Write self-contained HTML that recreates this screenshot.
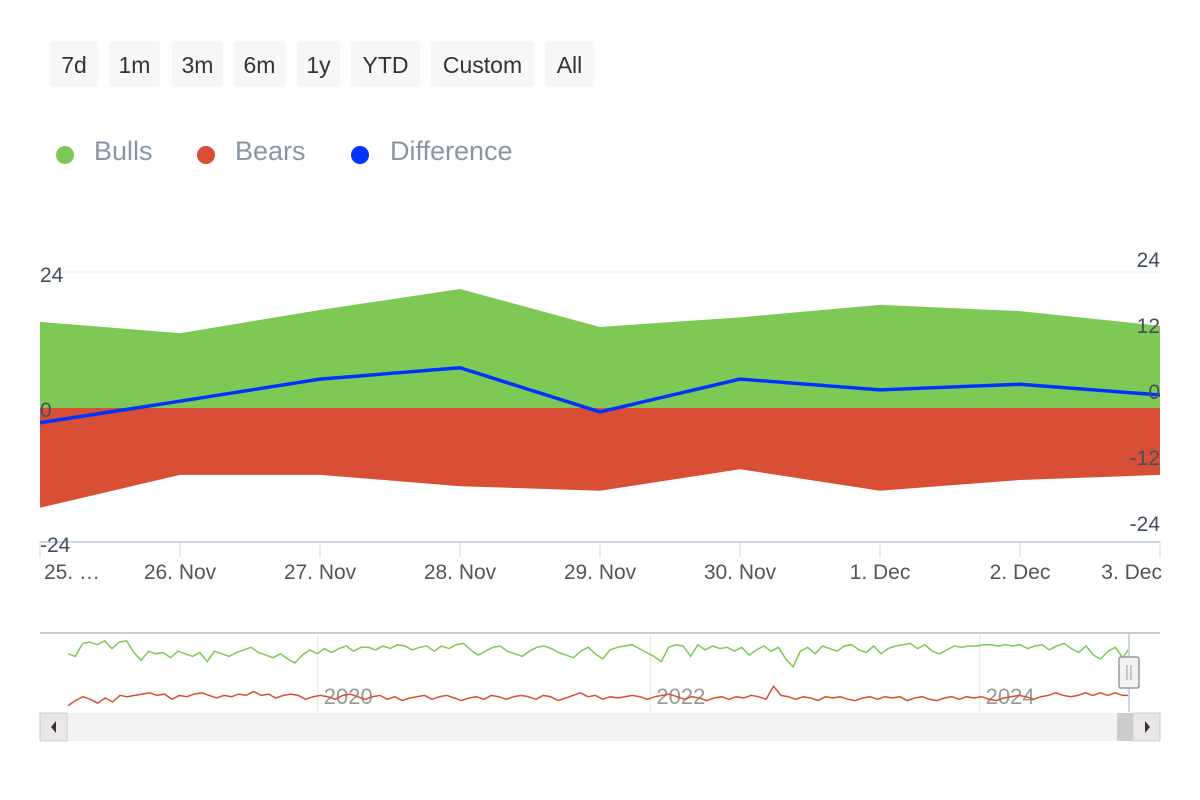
<!DOCTYPE html>
<html><head><meta charset="utf-8"><style>
body{margin:0;background:#fff;width:1200px;height:800px;overflow:hidden;font-family:"Liberation Sans","DejaVu Sans",sans-serif}
.btn{position:absolute;top:41px;height:46px;background:#f7f7f7;border-radius:3px;font-size:23px;color:#333;line-height:48px;text-align:center}
.leg{position:absolute;top:133px;font-size:27px;color:#8995a3;line-height:36px}
.dot{position:absolute;top:146px;width:18px;height:18px;border-radius:50%}
</style></head><body>
<div class="btn" style="left:50px;width:48px">7d</div>
<div class="btn" style="left:109px;width:51px">1m</div>
<div class="btn" style="left:172px;width:51px">3m</div>
<div class="btn" style="left:234px;width:51px">6m</div>
<div class="btn" style="left:297px;width:43px">1y</div>
<div class="btn" style="left:351px;width:69px">YTD</div>
<div class="btn" style="left:431px;width:103px">Custom</div>
<div class="btn" style="left:545px;width:49px">All</div>
<div class="dot" style="left:56px;background:#7ec855"></div>
<div class="leg" style="left:94px">Bulls</div>
<div class="dot" style="left:197px;background:#d94f35"></div>
<div class="leg" style="left:235px">Bears</div>
<div class="dot" style="left:351px;background:#0033ff"></div>
<div class="leg" style="left:390px">Difference</div>
<svg id="c" width="1200" height="800" style="position:absolute;left:0;top:0"></svg>
<script>
const categories=["25. …","26. Nov","27. Nov","28. Nov","29. Nov","30. Nov","1. Dec","2. Dec","3. Dec"];
const bulls=[15.2,13.2,17.3,21,14.3,16,18.2,17.1,14.5];
const bears=[-17.6,-11.8,-11.8,-13.8,-14.6,-10.8,-14.6,-12.7,-11.8];
const diff=[-2.6,1.2,5.1,7.1,-0.7,5.1,3.2,4.2,2.3];
const leftTicks=[24,0,-24];
const rightTicks=["24","12","0","-12","-24"];
const navBulls=[14,12,22,23,21,24,18,23,24,15,9,16,14,15,11,16,14,12,15,8,16,14,12,15,17,19,15,13,11,14,10,7,13,17,14,18,15,18,20,16,19,19,17,20,18,21,20,17,19,20,16,20,18,21,22,17,13,16,19,20,16,14,12,16,19,20,18,15,13,11,16,19,14,10,17,19,20,21,18,15,12,8,19,21,20,12,21,17,20,18,19,16,19,13,17,20,16,19,10,4,16,19,14,20,18,16,20,21,17,15,20,14,18,20,21,22,18,21,16,14,17,20,19,20,20,21,21,20,21,20,21,18,20,21,17,20,22,18,15,20,13,10,16,19,11,19];
const navBears=[-26,-22,-19,-21,-24,-20,-23,-18,-19,-18,-17,-16,-18,-17,-21,-18,-19,-17,-16,-18,-20,-18,-19,-17,-18,-15,-18,-17,-20,-18,-17,-18,-21,-19,-18,-19,-21,-18,-17,-19,-21,-19,-18,-21,-19,-22,-20,-19,-18,-21,-19,-18,-20,-22,-20,-19,-21,-18,-19,-21,-19,-18,-19,-21,-18,-19,-22,-20,-18,-16,-19,-18,-21,-19,-20,-19,-18,-19,-21,-19,-18,-17,-19,-21,-19,-20,-22,-20,-19,-21,-19,-20,-18,-19,-21,-11,-18,-19,-21,-19,-20,-22,-19,-20,-19,-21,-22,-20,-19,-21,-19,-20,-19,-22,-20,-19,-21,-22,-20,-19,-21,-19,-20,-19,-21,-22,-20,-19,-18,-19,-21,-19,-18,-16,-18,-19,-18,-16,-18,-16,-18,-16,-18,-18];
const navYears=["2020","2022","2024"];
const navYearPos=[0.248,0.545,0.839];

const NS="http://www.w3.org/2000/svg",svg=document.getElementById('c');
function el(t,a,p){const e=document.createElementNS(NS,t);for(const k in a)e.setAttribute(k,a[k]);(p||svg).appendChild(e);return e;}
const X=i=>40+i*(1120/(categories.length-1));
const Y=v=>408-v*(136/24);
let g=el('line',{x1:40,x2:1160,y1:Y(24),y2:Y(24),stroke:'#eeeeee','stroke-width':1});

let g2=el('line',{x1:40,x2:1160,y1:458,y2:458,stroke:'#eeeeee','stroke-width':1});

function area(vals,color,name){let d='M'+X(0)+','+Y(0);vals.forEach((v,i)=>d+=' L'+X(i)+','+Y(v));d+=' L'+X(vals.length-1)+','+Y(0)+' Z';
 const p=el('path',{d:d,fill:color});}
area(bulls,'#7ec855','bulls-area');
area(bears,'#d94f35','bears-area');
let dl=el('path',{d:diff.map((v,i)=>(i?'L':'M')+X(i)+','+Y(v)).join(' '),fill:'none',stroke:'#0033ff','stroke-width':3.5,'stroke-linejoin':'round'});

let ax=el('line',{x1:40,x2:1160,y1:542,y2:542,stroke:'#ccd6eb','stroke-width':2});

categories.forEach((c,i)=>{
 const t=el('line',{x1:X(i),x2:X(i),y1:542,y2:557,stroke:'#ccd6eb','stroke-width':1});
 
 const anchor=i==0?'start':(i==categories.length-1?'end':'middle');
 const tx=el('text',{x:i==0?44:(i==categories.length-1?1162:X(i)),y:579,'font-size':21,fill:'#555','text-anchor':anchor});tx.textContent=c;
 
});
leftTicks.forEach(v=>{const t=el('text',{x:40,y:Y(v)+(v==24?10:(v==0?9:8)),'font-size':21,fill:'#444e5e'});t.textContent=String(v);
 });
rightTicks.forEach((v,i)=>{const t=el('text',{x:1160,y:267+i*66,'font-size':21,fill:'#444e5e','text-anchor':'end'});t.textContent=v;
 });
let nt=el('line',{x1:40,x2:1160,y1:633,y2:633,stroke:'#cccccc','stroke-width':2});

navYears.forEach((y,i)=>{const x=40+navYearPos[i]*1120;
 const l=el('line',{x1:x,x2:x,y1:633,y2:712,stroke:'#e6e6e6'});
 const t=el('text',{x:x+6,y:704,'font-size':22,fill:'#999'});t.textContent=y;});
const NX=(i,n)=>68+i*(1062/(n-1));const NY=v=>672-v*1.3;
function navLine(vals,color,name){const p=el('path',{d:vals.map((v,i)=>(i?'L':'M')+NX(i,vals.length).toFixed(1)+','+NY(v).toFixed(1)).join(' '),fill:'none',stroke:color,'stroke-width':1.5});
 }
navLine(navBulls,'#7ec855','navigator-bulls-line');
navLine(navBears,'#d94f35','navigator-bears-line');
let hl=el('line',{x1:1129,x2:1129,y1:633,y2:712,stroke:'#ccd6eb','stroke-width':2});
let hd=el('rect',{x:1119,y:657,width:20,height:31,rx:2,fill:'#f2f2f2',stroke:'#999','stroke-width':1.5});
el('line',{x1:1127,x2:1127,y1:665,y2:680,stroke:'#999'});el('line',{x1:1131,x2:1131,y1:665,y2:680,stroke:'#999'});
let sb=el('rect',{x:40,y:713,width:1120,height:28,fill:'#f2f2f2'});
let th=el('rect',{x:1117,y:713,width:16,height:28,fill:'#cccccc'});
let lb=el('rect',{x:40,y:713,width:27,height:28,fill:'#ebe7e8',stroke:'#cccccc'});
el('path',{d:'M56,721 L51,727 L56,733 Z',fill:'#333'});
let rb=el('rect',{x:1133,y:713,width:27,height:28,fill:'#ebe7e8',stroke:'#cccccc'});
el('path',{d:'M1145,721 L1150,727 L1145,733 Z',fill:'#333'});
</script>
</body></html>
